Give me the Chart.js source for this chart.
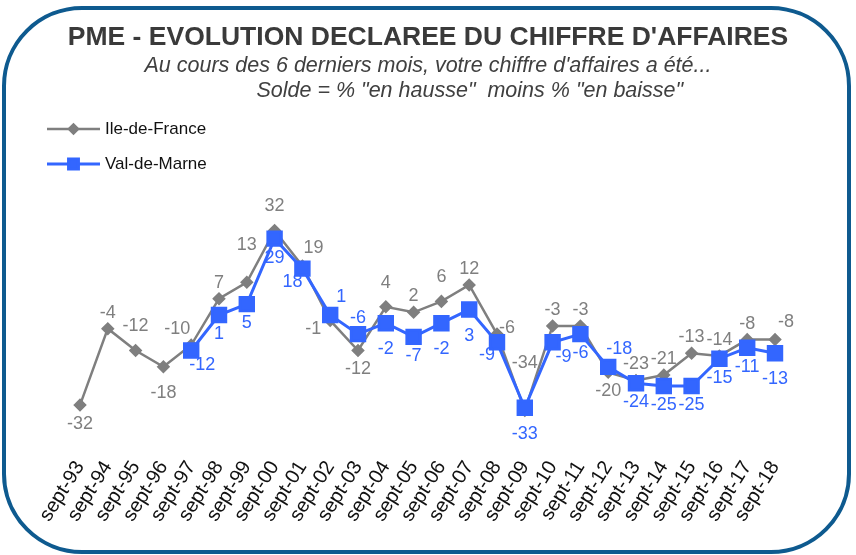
<!DOCTYPE html>
<html>
<head>
<meta charset="utf-8">
<script src="https://cdn.jsdelivr.net/npm/chart.js@4.4.1/dist/chart.umd.min.js"></script>
<style>
  html, body { margin: 0; padding: 0; background: #ffffff; }
  #wrap { position: relative; width: 856px; height: 555px; }
  #frame {
    position: absolute; left: 2px; top: 6px; width: 849px; height: 548px;
    box-sizing: border-box; border: 4.5px solid #0e5a8f; border-radius: 80px;
    pointer-events: none;
  }
  canvas { position: absolute; left: 0; top: 0; }
</style>
</head>
<body>
<div id="wrap">
  <canvas id="c" width="856" height="555"></canvas>
  <div id="frame"></div>
</div>
<script>
// ---------- data ----------
const categories = ['sept-93','sept-94','sept-95','sept-96','sept-97','sept-98','sept-99','sept-00','sept-01','sept-02','sept-03','sept-04','sept-05','sept-06','sept-07','sept-08','sept-09','sept-10','sept-11','sept-12','sept-13','sept-14','sept-15','sept-16','sept-17','sept-18'];
const ileDeFrance = [-32,-4,-12,-18,-10,7,13,32,19,-1,-12,4,2,6,12,-6,-34,-3,-3,-20,-23,-21,-13,-14,-8,-8];
const valDeMarne = [null,null,null,null,-12,1,5,29,18,1,-6,-2,-7,-2,3,-9,-33,-9,-6,-18,-24,-25,-25,-15,-11,-13];
const seriesNames = ['Ile-de-France','Val-de-Marne'];
const titleText = "PME - EVOLUTION DECLAREE DU CHIFFRE D'AFFAIRES";
const subtitleLines = [
  "Au cours des 6 derniers mois, votre chiffre d'affaires a été...",
  '              Solde = % "en hausse"  moins % "en baisse"'
];
// label placement codes (relative to each point)
const idfLabelPlace = ['b','t','t2','b2','tl','t','t3','t2','tr','l','b','t2','t','t2','t','r','t4','t','t','b','t','t','t','t','t','tr'];
const vdmLabelPlace = [null,null,null,null,'br','b','b','b','bl','tr','t','b2','b','b2','b2','bl','b2','br','b','tr','b','b','b','b','b','b2'];

// ---------- styles ----------
const FONT = "'Liberation Sans', Arial, sans-serif";
const GREY = '#7f7f7f';
const BLUE = '#3366ff';
const placeOffsets = {
  t: [0,-16], t2: [0,-24], t3: [0,-37], t4: [0,-47],
  b: [0,19], b2: [0,26],
  tl: [-14,-16], tr: [11,-18], bl: [-10,13], br: [11,15],
  l: [-17,9], r: [10,-6]
};

const dataLabelPlugin = {
  id: 'dataLabels',
  afterDatasetsDraw(chart) {
    const ctx = chart.ctx;
    ctx.save();
    ctx.font = '18px ' + FONT;
    ctx.textAlign = 'center';
    ctx.textBaseline = 'middle';
    chart.data.datasets.forEach((ds, di) => {
      const meta = chart.getDatasetMeta(di);
      meta.data.forEach((el, i) => {
        const v = ds.data[i];
        if (v === null || v === undefined) return;
        const code = ds.labelPlace[i] || 't';
        const off = placeOffsets[code];
        ctx.fillStyle = ds.borderColor;
        ctx.fillText(String(v), el.x + off[0], el.y + off[1]);
      });
    });
    ctx.restore();
  }
};

const legendPlugin = {
  id: 'sideLegend',
  afterDraw(chart) {
    const ctx = chart.ctx;
    ctx.save();
    chart.data.datasets.forEach((ds, di) => {
      const y = 129 + di * 35;
      ctx.strokeStyle = ds.borderColor;
      ctx.lineWidth = ds.borderWidth;
      ctx.beginPath();
      ctx.moveTo(47, y);
      ctx.lineTo(100, y);
      ctx.stroke();
      ctx.fillStyle = ds.pointBackgroundColor;
      ctx.strokeStyle = ds.pointBorderColor;
      Chart.helpers.drawPoint(ctx, {
        pointStyle: ds.pointStyle,
        radius: ds.legendPointRadius,
        rotation: 0,
        borderWidth: 1
      }, 73.5, y);
      ctx.fillStyle = '#111111';
      ctx.font = '17px ' + FONT;
      ctx.textAlign = 'left';
      ctx.textBaseline = 'middle';
      ctx.fillText(ds.label, 105, y);
    });
    ctx.restore();
  }
};

new Chart(document.getElementById('c'), {
  type: 'line',
  data: {
    labels: categories,
    datasets: [
      {
        label: seriesNames[0],
        data: ileDeFrance,
        labelPlace: idfLabelPlace,
        borderColor: GREY,
        backgroundColor: GREY,
        pointBackgroundColor: GREY,
        pointBorderColor: GREY,
        borderWidth: 2.5,
        pointStyle: 'rectRot',
        pointRadius: 5,
        legendPointRadius: 4.5,
        tension: 0,
        order: 2
      },
      {
        label: seriesNames[1],
        data: valDeMarne,
        labelPlace: vdmLabelPlace,
        borderColor: BLUE,
        backgroundColor: BLUE,
        pointBackgroundColor: BLUE,
        pointBorderColor: BLUE,
        borderWidth: 3,
        pointStyle: 'rect',
        pointRadius: 9.5,
        legendPointRadius: 7,
        tension: 0,
        order: 1
      }
    ]
  },
  options: {
    responsive: false,
    animation: false,
    devicePixelRatio: 1,
    layout: { padding: { left: 0, right: 0, top: 0, bottom: 21 } },
    plugins: {
      legend: { display: false },
      tooltip: { enabled: false },
      title: {
        display: true,
        text: titleText,
        color: '#3a3a3a',
        font: { family: FONT, size: 26.5, weight: 'bold', lineHeight: 1.2 },
        padding: { top: 21.8, bottom: 0 }
      },
      subtitle: {
        display: true,
        text: subtitleLines,
        color: '#404040',
        font: { family: FONT, size: 21.5, style: 'italic', lineHeight: 1.163 },
        padding: { top: 0, bottom: 105 }
      }
    },
    scales: {
      x: {
        offset: false,
        grid: { display: false, drawTicks: false },
        border: { display: false },
        ticks: {
          autoSkip: false,
          minRotation: 58,
          maxRotation: 58,
          padding: 8,
          color: '#111111',
          font: { family: FONT, size: 20 }
        }
      },
      y: {
        position: 'left',
        min: -48,
        max: 40,
        grid: { display: false, drawTicks: false },
        border: { display: false },
        ticks: { display: false },
        afterFit(scale) { scale.width = 80; }
      },
      yRight: {
        position: 'right',
        min: -48,
        max: 40,
        grid: { display: false, drawTicks: false },
        border: { display: false },
        ticks: { display: false },
        afterFit(scale) { scale.width = 81; }
      }
    }
  },
  plugins: [dataLabelPlugin, legendPlugin]
});
</script>
</body>
</html>
